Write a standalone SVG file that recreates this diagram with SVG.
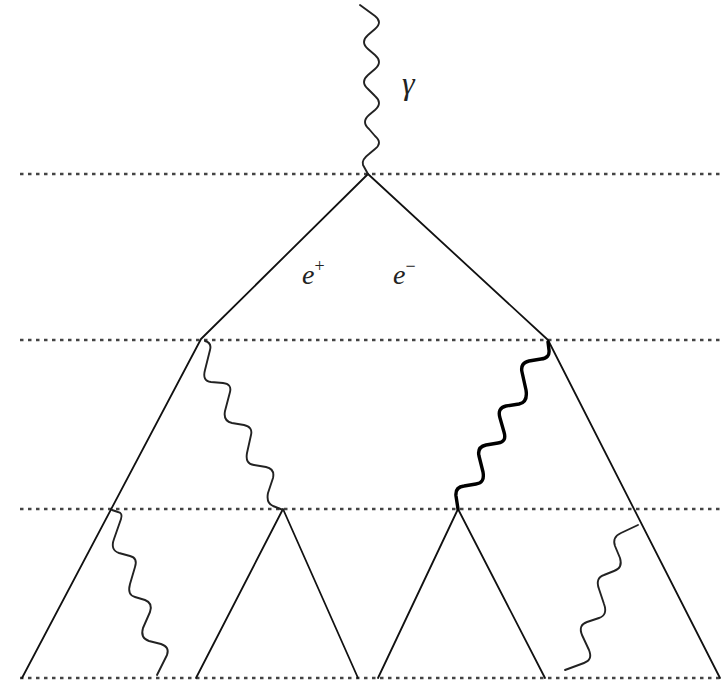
<svg xmlns="http://www.w3.org/2000/svg" width="722" height="682" viewBox="0 0 722 682">
<style>
.dot{stroke:#444;stroke-width:2.4;stroke-dasharray:3.5 4.5;fill:none}
.ln{stroke:#111;stroke-width:1.8;fill:none;stroke-linecap:round;stroke-linejoin:round}
.ph{stroke:#222;stroke-width:1.9;fill:none;stroke-linecap:round;stroke-linejoin:round}
.phk{stroke:#000;stroke-width:3.4;fill:none;stroke-linecap:round;stroke-linejoin:round}
.lbl{font-family:"Liberation Serif",serif;font-style:italic;fill:#222}
</style>
<rect width="722" height="682" fill="#fff"/>
<g id="levels">
<line class="dot" x1="20" y1="174" x2="722" y2="174"/>
<line class="dot" x1="20" y1="340" x2="722" y2="340"/>
<line class="dot" x1="20" y1="509" x2="722" y2="509"/>
<line class="dot" x1="20" y1="678" x2="722" y2="678"/>
</g>
<g id="connectors">
<path class="ln" d="M368,174 L201,339 L22,678"/>
<path class="ln" d="M368,174 L548,340 L720,678"/>
<path class="ln" d="M196,678 L283,509 L358,678"/>
<path class="ln" d="M378,678 L458,509 L545,678"/>
</g>
<g id="photon-gamma">
<path class="ph" d="M360,5 L375,16 Q383,22 375,29 L368,35 Q360,42 368,49 L375,55 Q383,62 375,69 L368,75 Q360,82 368,89 L375,96 Q383,103 375,110 L369,115 Q361,122 369,129 L375,136 Q383,143 375,149 L369,154 Q361,160 363,165 L368,174"/>
</g>
<g id="photon-left">
<path class="ph" d="M205,341 Q212,343 210,350 L205,370 Q202,381 211,382 L223,383 Q232,384 230,392 L225,411 Q223,421 232,423 L244,425 Q253,427 251,435 L247,453 Q245,464 254,465 L266,467 Q275,469 273,478 L268,493 Q266,503 273,506 L283,510"/>
</g>
<g id="photon-right">
<path class="phk" d="M548,342 L549,350 Q550,358 541,359 L529,361 Q520,363 522,372 L526,390 Q528,402 519,404 L506,406 Q497,408 500,418 L504,432 Q507,442 498,443 L486,445 Q477,447 479,456 L483,472 Q485,483 476,484 L464,486 Q455,487 456,496 L458,509"/>
</g>
<g id="photon-lower-left">
<path class="ph" d="M112,510 L118,512 Q123,513 121,519 L114,539 Q110,550 119,553 L130,556 Q138,558 135,567 L130,584 Q127,595 135,597 L145,600 Q153,603 150,612 L143,628 Q140,638 149,641 L161,644 Q170,647 167,655 L157,675"/>
</g>
<g id="photon-lower-right">
<path class="ph" d="M638,525 L621,533 Q612,537 615,546 L620,558 Q623,568 614,571 L604,575 Q595,578 599,589 L604,604 Q608,615 599,618 L587,622 Q578,625 582,635 L589,650 Q593,660 584,663 L565,670"/>
</g>
<g id="labels">
<text class="lbl" x="402" y="94" font-size="32">γ</text>
<text class="lbl" x="302" y="284" font-size="28">e<tspan font-size="18" dy="-12" font-style="normal">+</tspan></text>
<text class="lbl" x="393" y="284" font-size="28">e<tspan font-size="18" dy="-12" font-style="normal">−</tspan></text>
</g>
</svg>
